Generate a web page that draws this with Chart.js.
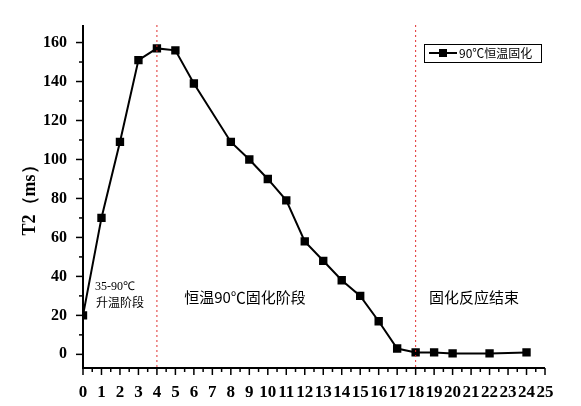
<!DOCTYPE html>
<html><head><meta charset="utf-8">
<script src="https://cdn.jsdelivr.net/npm/chart.js@4/dist/chart.umd.min.js"></script>
<style>html,body{margin:0;padding:0;background:#fff}#w{width:581px;height:406px}</style>
</head><body><div id="w"><canvas id="c"></canvas></div>
<script>
const times=[0,1,2,3,4,5,6,8,9,10,11,12,13,14,15,16,17,18,19,20,22,24];
const t2=[20,70,109,151,157,156,139,109,100,90,79,58,48,38,30,17,3,1,1,0.5,0.5,1];
const yTicks=[0,20,40,60,80,100,120,140,160];
const xTicks=[0,1,2,3,4,5,6,7,8,9,10,11,12,13,14,15,16,17,18,19,20,21,22,23,24,25];
const seriesName='90℃恒温固化';
const phaseLines=[4,18];
const cjk='"Noto Sans CJK SC"';
const deco={id:'deco',afterDraw(ch){
 const c=ch.ctx,x=ch.scales.x,y=ch.scales.y;
 c.save();
 c.strokeStyle='#e03030';c.lineWidth=1;c.setLineDash([2,3]);
 phaseLines.forEach(v=>{const px=x.getPixelForValue(v);c.beginPath();c.moveTo(px,ch.chartArea.top);c.lineTo(px,ch.chartArea.bottom);c.stroke();});
 c.setLineDash([]);
 c.strokeStyle='#000';c.lineWidth=2;c.beginPath();
 c.moveTo(ch.chartArea.left,ch.chartArea.top);c.lineTo(ch.chartArea.left,ch.chartArea.bottom);c.lineTo(ch.chartArea.right,ch.chartArea.bottom);c.stroke();
 c.lineWidth=1.5;
 for(let v=0;v<=25;v+=0.5){const px=x.getPixelForValue(v);const l=(v%1===0)?7:4;c.beginPath();c.moveTo(px,ch.chartArea.bottom);c.lineTo(px,ch.chartArea.bottom+l);c.stroke();}
 for(let v=0;v<=160;v+=10){const py=y.getPixelForValue(v);const l=(v%20===0)?7:4;c.beginPath();c.moveTo(ch.chartArea.left,py);c.lineTo(ch.chartArea.left-l,py);c.stroke();}
 c.fillStyle='#000';c.textBaseline='middle';
 c.textAlign='left';c.font='12px "Liberation Serif"';c.fillText('35-90℃',95,287);
 c.font='12px '+cjk;c.fillText('升温阶段',96,302);
 c.textAlign='center';c.font='15px '+cjk;c.fillText('恒温90℃固化阶段',245,297);c.fillText('固化反应结束',474,297);
 c.strokeStyle='#000';c.lineWidth=1;c.strokeRect(424.5,44.5,117,18);
 c.lineWidth=2;c.beginPath();c.moveTo(429,53);c.lineTo(457,53);c.stroke();c.fillRect(439,49,8,8);
 c.textAlign='left';c.font='12px '+cjk;c.fillText(seriesName,459,53);
 c.translate(30,196);c.rotate(-Math.PI/2);c.textAlign='center';c.font='bold 18px "Liberation Serif"';c.fillText('T2（ms）',0,0);
 c.restore();}};
new Chart(document.getElementById('c'),{type:'line',
 data:{datasets:[{label:seriesName,data:times.map((t,i)=>({x:t,y:t2[i]})),borderColor:'#000',backgroundColor:'#000',borderWidth:2,pointStyle:'rect',pointRadius:4.5,tension:0}]},
 options:{responsive:true,maintainAspectRatio:false,animation:false,
  layout:{padding:{left:0,top:25,right:36,bottom:0}},
  plugins:{legend:{display:false},tooltip:{enabled:false}},
  scales:{
   x:{type:'linear',min:0,max:25,grid:{display:false},border:{display:false},
      afterBuildTicks:s=>{s.ticks=xTicks.map(v=>({value:v}));},
      afterFit:s=>{s.height=38;},
      ticks:{color:'#000',font:{family:'Liberation Serif',weight:'bold',size:17},maxRotation:0,autoSkip:false,padding:6}},
   y:{min:-7,max:169,grid:{display:false},border:{display:false},
      afterBuildTicks:s=>{s.ticks=yTicks.map(v=>({value:v}));},
      afterFit:s=>{s.width=83;},
      ticks:{color:'#000',font:{family:'Liberation Serif',weight:'bold',size:16},padding:8}}}},
 plugins:[deco]});
</script></body></html>
